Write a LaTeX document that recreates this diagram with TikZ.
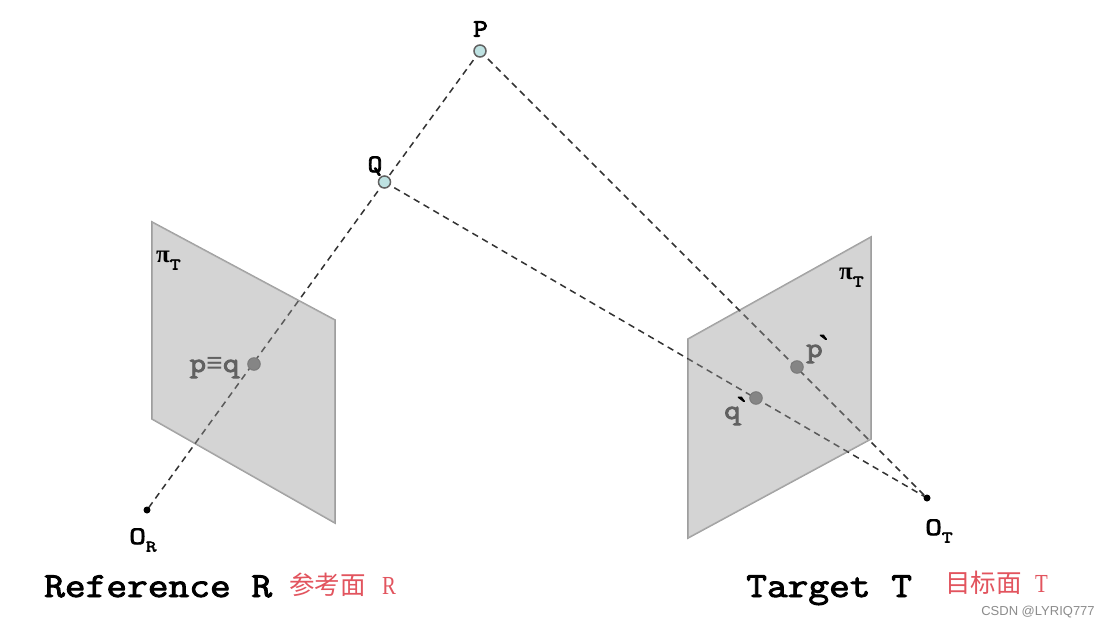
\documentclass[tikz,border=0pt]{standalone}
\usepackage{fontspec}
\setmainfont{Liberation Mono}
\newfontfamily\cour[FakeBold=2.6,FakeStretch=1.14]{Latin Modern Mono}
\newfontfamily\courl[FakeBold=3.2,FakeStretch=1.14]{Latin Modern Mono}
\newfontfamily\courw[FakeBold=3.2,FakeStretch=1.3]{Latin Modern Mono}
\newfontfamily\cjkfont{Noto Sans CJK SC}
\newfontfamily\serifred[FakeStretch=0.8]{Liberation Serif}
\newfontfamily\pifont{Liberation Serif}
\newfontfamily\tickfont[FakeBold=3]{Liberation Serif}
\newfontfamily\eqfont{Liberation Mono}
\newfontfamily\wmfont{Liberation Sans}
\definecolor{planefill}{gray}{0.83}
\definecolor{planeedge}{gray}{0.62}
\definecolor{raycol}{gray}{0.2}
\definecolor{redtxt}{RGB}{226,84,94}
\definecolor{worldfill}{RGB}{190,226,226}
\tikzset{
  planeshape/.style={fill=planefill,draw=planeedge,line width=1.6pt,line join=miter},
  planeveil/.style={fill=planefill,fill opacity=0.25},
  ray/.style={draw=raycol,line width=1.5pt,dash pattern=on 6.5pt off 4.8pt},
  world/.style={circle,draw=black!62,fill=worldfill,line width=1.5pt,inner sep=0pt,minimum size=12pt},
  image/.style={circle,draw=black!52,fill=black!48,line width=1pt,inner sep=0pt,minimum size=12.5pt},
  centre/.style={circle,fill=black,inner sep=0pt,minimum size=7pt},
  lab/.style={inner sep=0pt,font=\fontsize{25}{25}\selectfont\courl},
  olab/.style={inner sep=0pt,anchor=base west,font=\fontsize{25}{25}\selectfont\courw},
  imglab/.style={inner sep=0pt,text=black!62,font=\fontsize{28}{28}\selectfont\courl},
  title/.style={inner sep=0pt,anchor=base west,font=\fontsize{35.3}{35.3}\selectfont\cour},
  redcjk/.style={inner sep=0pt,anchor=base west,text=redtxt,font=\fontsize{25.5}{25.5}\selectfont\cjkfont},
  redlat/.style={inner sep=0pt,anchor=base west,text=redtxt,font=\fontsize{26}{26}\selectfont\serifred},
  watermark/.style={inner sep=0pt,text=black!45,font=\fontsize{13}{13}\selectfont\wmfont}
}
\newcommand{\subl}[1]{\raisebox{-0.3em}{\fontsize{16}{16}\selectfont\courw #1}}
\newcommand{\tick}{\kern-4pt\raisebox{0.04em}{\fontsize{30}{30}\selectfont\tickfont\textcolor{black}{\textasciigrave}}}
\begin{document}
\begin{tikzpicture}[x=1pt,y=-1pt]
\useasboundingbox (0,0) rectangle (1109,629);
\fill[white] (0,0) rectangle (1109,629);
% planes
\draw[planeshape] (152,222) -- (335,320) -- (335,523) -- (152,419) -- cycle;
\draw[planeshape] (871,237) -- (871,439) -- (688,538) -- (688,339) -- cycle;
% points
\coordinate (Pc) at (480,51);
\coordinate (Qc) at (384.5,182);
\coordinate (ORc) at (147,510);
\coordinate (OTc) at (927,498);
% rays
\draw[ray] (Pc) -- (Qc);
\draw[ray] (Qc) -- (ORc);
\draw[ray] (Pc) -- (OTc);
\draw[ray] (Qc) -- (OTc);
% rays look paler where they cross a plane
\fill[planeveil] (152,222) -- (335,320) -- (335,523) -- (152,419) -- cycle;
\fill[planeveil] (871,237) -- (871,439) -- (688,538) -- (688,339) -- cycle;
% dots
\node[world] (P) at (Pc) {};
\node[world] (Q) at (Qc) {};
\node[centre] (OR) at (ORc) {};
\node[centre] (OT) at (OTc) {};
\node[image] (pq) at (254,364) {};
\node[image] (pp) at (797,367) {};
\node[image] (qp) at (756,398) {};
% labels
\node[lab] (Plab) at (480.5,29) {P};
\node[lab] (Qlab) at (375,166) {Q};
\node[imglab,anchor=base] (pqlab) at (214.5,372) {p{\eqfont\bfseries ≡}q};
\node[imglab,anchor=base west] (pplab) at (806,357) {p\tick};
\node[imglab,anchor=base west] (qplab) at (724,419) {q\tick};
\node[lab,anchor=base west] (piL) at (156,262) {{\pifont\bfseries π}\subl{T}};
\node[lab,anchor=base west] (piR) at (839,279) {{\pifont\bfseries π}\subl{T}};
\node[olab] (ORlab) at (129,544) {O\subl{R}};
\node[olab] (OTlab) at (925,535) {O\subl{T}};
\node[title] (refT) at (44,597) {Reference R};
\node[title] (tarT) at (746,597) {Target T};
\node[redcjk] (refC) at (289,594) {参考面};
\node[redlat] (refL) at (382,594) {R};
\node[redcjk] (tarC) at (945,592) {目标面};
\node[redlat] (tarL) at (1035,592) {T};
\node[watermark] (wm) at (1038,612.5) {CSDN @LYRIQ777};
\end{tikzpicture}
\end{document}
